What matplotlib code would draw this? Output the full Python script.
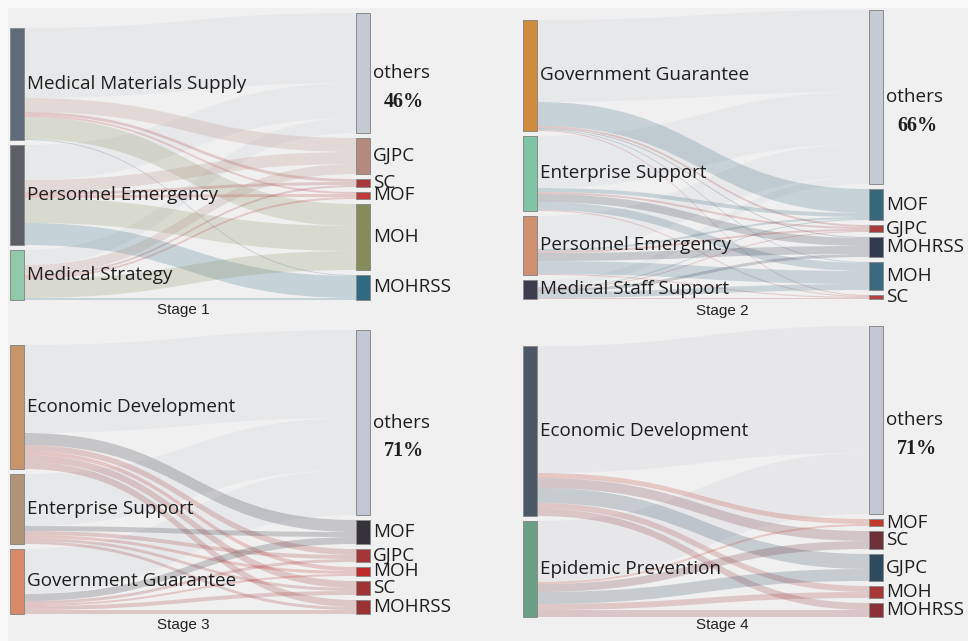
import matplotlib.pyplot as plt
from matplotlib.path import Path
from matplotlib.patches import PathPatch, Rectangle

# ---- data (flow sizes, arbitrary units) ----
stage_names = ["Stage 1", "Stage 2", "Stage 3", "Stage 4"]

s1_sources = ["Medical Materials Supply", "Personnel Emergency", "Medical Strategy"]
s1_targets = ["others", "GJPC", "SC", "MOF", "MOH", "MOHRSS"]
s1_flows = [[70, 14, 3, 2, 22, 1],
            [35, 12, 3, 3, 25, 22],
            [15, 10, 2, 2, 19, 2]]
s1_src_colors = ["#5f6b78", "#5d5f66", "#8fc9a9"]
s1_tgt_colors = ["#c3cad4", "#b48a7c", "#a8393a", "#c0393b", "#858c5a", "#2f6a80"]

s2_sources = ["Government Guarantee", "Enterprise Support", "Personnel Emergency",
              "Medical Staff Support"]
s2_targets = ["others", "MOF", "GJPC", "MOHRSS", "MOH", "SC"]
s2_flows = [[82, 24, 2, 1, 1, 1],
            [52, 4, 2, 8, 8, 1],
            [33, 2, 2, 8, 13, 1],
            [7, 1, 1, 3, 6, 1]]
s2_src_colors = ["#d08c3c", "#7fc4a4", "#d09070", "#3c3e4e"]
s2_tgt_colors = ["#c5cbd5", "#37687a", "#a83a3a", "#323a4f", "#3a6a80", "#b44040"]

s3_sources = ["Economic Development", "Enterprise Support", "Government Guarantee"]
s3_targets = ["others", "MOF", "GJPC", "MOH", "SC", "MOHRSS"]
s3_flows = [[88, 12, 6, 4, 7, 7],
            [52, 5, 4, 3, 3, 3],
            [45, 7, 3, 2, 4, 4]]
s3_src_colors = ["#c8946a", "#b09478", "#d98a68"]
s3_tgt_colors = ["#c2c8d3", "#35323c", "#a63535", "#c02a2a", "#9f3434", "#9b3232"]

s4_sources = ["Economic Development", "Epidemic Prevention"]
s4_targets = ["others", "MOF", "SC", "GJPC", "MOH", "MOHRSS"]
s4_flows = [[127, 5, 10, 15, 6, 7],
            [61, 2, 8, 12, 6, 7]]
s4_src_colors = ["#4d5866", "#6aa184"]
s4_tgt_colors = ["#c3c7d4", "#c0392b", "#6e3038", "#2e4a5e", "#a83838", "#8d3036"]

stages = [
    (s1_sources, s1_targets, s1_flows, s1_src_colors, s1_tgt_colors),
    (s2_sources, s2_targets, s2_flows, s2_src_colors, s2_tgt_colors),
    (s3_sources, s3_targets, s3_flows, s3_src_colors, s3_tgt_colors),
    (s4_sources, s4_targets, s4_flows, s4_src_colors, s4_tgt_colors),
]

# ---- layout (pixel space) ----
# left node x, right node x, bottom y, stage label x, stage label y
panels = [(10, 356, 300, 183, 310),
          (523, 869, 299, 722, 311),
          (10, 356, 614, 183, 625),
          (523, 869, 617, 722, 625)]
node_w = 14
gap = 5
scale = 1.0
label_font = "Open Sans"
label_size = 13.6


def stack(sizes, bottom):
    """Return (top, height) for nodes stacked upward so the last one sits on bottom."""
    total = sum(sizes) * scale + gap * (len(sizes) - 1)
    y = bottom - total
    out = []
    for s in sizes:
        out.append((y, s * scale))
        y += s * scale + gap
    return out


def band(ax, x0, x1, ya, yb, color, alpha):
    xm = (x0 + x1) / 2
    top0, bot0 = ya
    top1, bot1 = yb
    verts = [(x0, top0), (xm, top0), (xm, top1), (x1, top1),
             (x1, bot1), (xm, bot1), (xm, bot0), (x0, bot0), (x0, top0)]
    codes = [Path.MOVETO, Path.CURVE4, Path.CURVE4, Path.CURVE4,
             Path.LINETO, Path.CURVE4, Path.CURVE4, Path.CURVE4, Path.CLOSEPOLY]
    ax.add_patch(PathPatch(Path(verts, codes), facecolor=color, edgecolor="none",
                           alpha=alpha, zorder=1))


fig = plt.figure(figsize=(9.68, 6.41), dpi=100, facecolor="#f9f9f9")
ax = fig.add_axes([0, 0, 1, 1])
ax.set_xlim(0, 968)
ax.set_ylim(641, 0)
ax.axis("off")
ax.add_patch(Rectangle((8, 8), 960, 633, facecolor="#f0f0f0", edgecolor="none", zorder=0))

for (sources, targets, flows, src_cols, tgt_cols), name, (xl, xr, yb, sx, sy) in zip(
        stages, stage_names, panels):
    src_sizes = [sum(row) for row in flows]
    tgt_sizes = [sum(flows[i][j] for i in range(len(sources))) for j in range(len(targets))]
    src_nodes = stack(src_sizes, yb)
    tgt_nodes = stack(tgt_sizes, yb)

    # outgoing links ordered by target, incoming ordered by source
    src_off = [n[0] for n in src_nodes]
    tgt_off = [n[0] for n in tgt_nodes]
    src_pos = {}
    for i in range(len(sources)):
        for j in range(len(targets)):
            h = flows[i][j] * scale
            src_pos[(i, j)] = (src_off[i], src_off[i] + h)
            src_off[i] += h
    tgt_pos = {}
    for j in range(len(targets)):
        for i in range(len(sources)):
            h = flows[i][j] * scale
            tgt_pos[(i, j)] = (tgt_off[j], tgt_off[j] + h)
            tgt_off[j] += h

    links = [(i, j) for i in range(len(sources)) for j in range(len(targets))]
    for i, j in sorted(links, key=lambda l: (l[1] != 0, l)):
        if flows[i][j] == 0:
            continue
        a = 0.2 if j == 0 else 0.22
        band(ax, xl + node_w, xr, src_pos[(i, j)], tgt_pos[(i, j)], tgt_cols[j], a)

    for (top, h), label, col in zip(src_nodes, sources, src_cols):
        ax.add_patch(Rectangle((xl, top), node_w, h, facecolor=col, edgecolor="#8a8a8a",
                               linewidth=0.7, zorder=3))
        ax.text(xl + node_w + 3, top + h / 2, label, fontsize=label_size, family=label_font,
                color="#1e1e1e", va="center", ha="left", zorder=4)

    total = sum(src_sizes)
    for k, ((top, h), label, col) in enumerate(zip(tgt_nodes, targets, tgt_cols)):
        ax.add_patch(Rectangle((xr, top), node_w, h, facecolor=col, edgecolor="#8a8a8a",
                               linewidth=0.7, zorder=3))
        ax.text(xr + node_w + 3, top + h / 2, label, fontsize=label_size, family=label_font,
                color="#1e1e1e", va="center", ha="left", zorder=4)
        if k == 0:
            pct = round(100 * tgt_sizes[0] / total)
            ax.text(xr + node_w + 34, top + h / 2 + 29, f"{pct}%", fontsize=14.5,
                    family="Liberation Serif", fontweight="bold", color="#1e1e1e",
                    va="center", ha="center", zorder=4)

    ax.text(sx, sy, name, fontsize=11, family="Liberation Sans", color="#222222",
            ha="center", va="center", zorder=4)

plt.savefig("out.png", dpi=100, facecolor=fig.get_facecolor())
